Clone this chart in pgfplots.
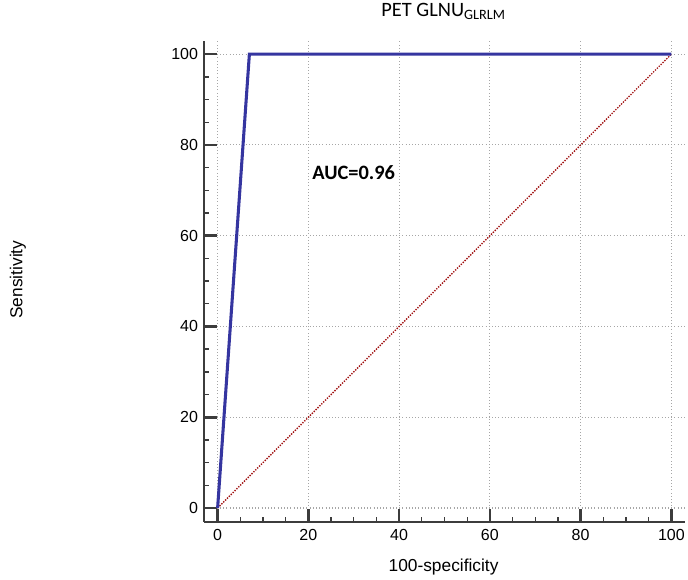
\documentclass[border=0pt]{standalone}
\usepackage{fontspec}
\setmainfont{Liberation Sans}
\newfontfamily\calibri{Carlito}
\usepackage{pgfplots}
\pgfplotsset{compat=1.18}
\definecolor{spinegray}{HTML}{3C3C3C}
\definecolor{rocblue}{HTML}{3535A0}
\definecolor{diagred}{HTML}{A01010}
\begin{document}
\begin{tikzpicture}
\path[use as bounding box] (0,0) rectangle (516pt,435pt);
\begin{axis}[
  at={(153pt,43.5pt)}, anchor=south west,
  scale only axis, width=360.75pt, height=360.75pt,
  xmin=-3, xmax=103, ymin=-3.08, ymax=102.9,
  axis x line*=bottom, axis y line*=left,
  axis line style={line width=2.2pt, color=spinegray, -},
  xtick={0,20,...,100}, ytick={0,20,...,100},
  minor xtick={5,10,15,25,30,35,45,50,55,65,70,75,85,90,95},
  minor ytick={5,10,15,25,30,35,45,50,55,65,70,75,85,90,95},
  tick align=inside,
  major tick length=9.5pt, minor tick length=4pt,
  major tick style={line width=2pt, color=spinegray},
  minor tick style={line width=1pt, color=spinegray},
  grid=major,
  major grid style={dotted, line width=0.8pt, color=gray!70},
  tick label style={font=\fontsize{12}{14}\selectfont, text=black},
  /pgf/number format/assume math mode=true,
  xticklabel style={yshift=-2pt},
  yticklabel style={xshift=-1pt},
  title={\calibri\fontsize{15.3}{18}\selectfont PET GLNU\textsubscript{GLRLM}},
  title style={at={(rel axis cs:0.498,1.034)}, anchor=base, inner sep=0pt},
  xlabel={100-specificity},
  xlabel style={at={(rel axis cs:0.498,-0.102)}, anchor=base, inner sep=0pt, font=\fontsize{13}{15}\selectfont},
  ylabel={Sensitivity},
  ylabel style={at={(rel axis cs:-0.387,0.504)}, anchor=center, inner sep=0pt, font=\fontsize{13}{15}\selectfont},
  clip=false,
]
\addplot[diagred, densely dotted, line width=1pt] coordinates {(0,0) (100,100)};
\addplot[rocblue, line width=2.3pt, line join=miter] coordinates {(0,0) (7,100) (100,100)};
\node[anchor=base west, inner sep=0pt, font=\calibri\bfseries\fontsize{15.3}{18}\selectfont] at (axis cs:20.8,72.3) {AUC=0.96};
\end{axis}
\end{tikzpicture}
\end{document}
